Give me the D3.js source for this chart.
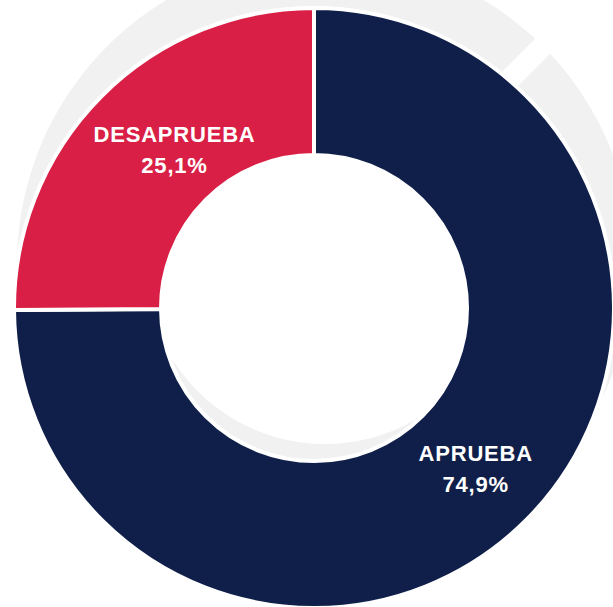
<!DOCTYPE html>
<html>
<head>
<meta charset="utf-8">
<script src="https://cdn.jsdelivr.net/npm/d3@7"></script>
<style>
  html, body { margin: 0; padding: 0; background: #fff; }
  svg { display: block; }
</style>
</head>
<body>
<svg id="chart" width="613" height="607"></svg>
<script>
// ---- data ----
const categories = ["APRUEBA", "DESAPRUEBA"];
const values = [74.9, 25.1];
const valueLabels = ["74,9%", "25,1%"];
const colors = ["#0f1f49", "#d91f45"];

// ---- layout ----
const cx = 314, cy = 308;
const outerR = 300, innerR = 153;

const svg = d3.select("#chart");

// decorative background ring (shadow), with a single gap at 45°
const shadowR = 308, shadowr = 180;
const gapPx = 20;
const shadowArc = d3.arc()
  .innerRadius(shadowr).outerRadius(shadowR)
  .padRadius(shadowR);
const shadow = svg.append("g").attr("transform", `translate(${cx + 11},${cy - 44})`);
shadow.append("path")
  .datum({ startAngle: Math.PI / 4 + 0.002, endAngle: Math.PI / 4 + 2 * Math.PI - 0.002, padAngle: gapPx / shadowR })
  .attr("d", shadowArc)
  .attr("fill", "#f1f1f1");

const data = categories.map((c, i) => ({ name: c, value: values[i], label: valueLabels[i], color: colors[i] }));
const pie = d3.pie().sort(null).value(d => d.value).startAngle(0).endAngle(2 * Math.PI);
const arcs = pie(data);

const arc = d3.arc().innerRadius(innerR).outerRadius(outerR);
const g = svg.append("g").attr("transform", `translate(${cx},${cy})`);

g.selectAll("path.slice")
  .data(arcs)
  .join("path")
  .attr("class", "slice")
  .attr("d", arc)
  .attr("fill", d => d.data.color)
  .attr("stroke", "#fff")
  .attr("stroke-width", 4)
  .attr("stroke-linejoin", "miter");

// labels
const labelRadius = [228, 211];
const labelShift = [0, 3.8 * Math.PI / 180];
const lbl = g.selectAll("g.lbl")
  .data(arcs)
  .join("g")
  .attr("class", "lbl")
  .attr("transform", (d, i) => {
    const la = d3.arc().innerRadius(labelRadius[i]).outerRadius(labelRadius[i]);
    const [x, y] = la.centroid({ startAngle: d.startAngle + labelShift[i], endAngle: d.endAngle + labelShift[i] });
    return `translate(${x},${y})`;
  });

lbl.append("text")
  .attr("y", -8)
  .text(d => d.data.name);
lbl.append("text")
  .attr("y", 23.5)
  .text(d => d.data.label);

lbl.selectAll("text")
  .attr("text-anchor", "middle")
  .attr("fill", "#fff")
  .attr("font-family", "'Liberation Sans', Arial, sans-serif")
  .attr("font-weight", "bold")
  .attr("font-size", 22)
  .attr("letter-spacing", "0.8px");
</script>
</body>
</html>
